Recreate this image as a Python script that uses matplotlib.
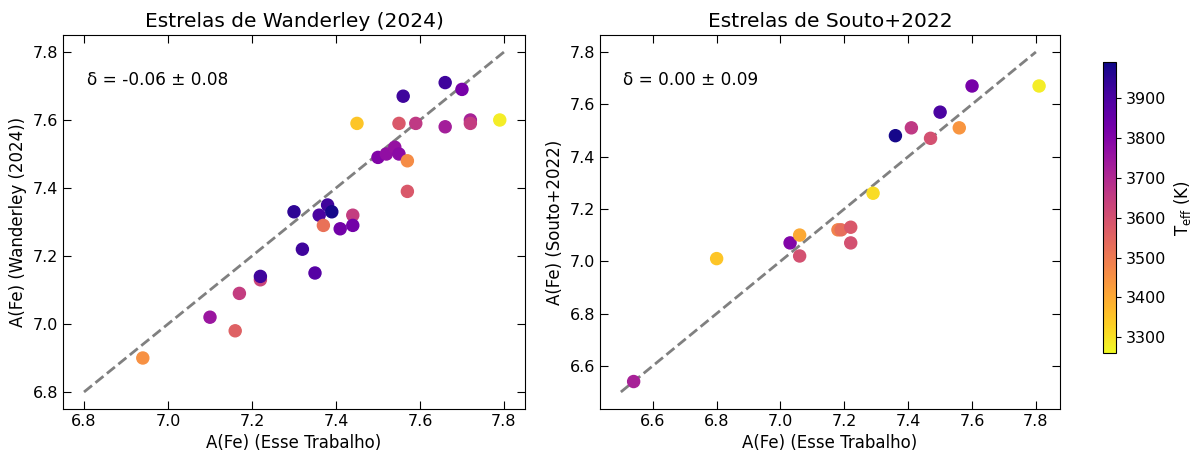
import matplotlib.pyplot as plt
import numpy as np

# Wanderley (2024) comparison
fe_this_w = [6.94, 7.10, 7.16, 7.17, 7.22, 7.22, 7.30, 7.32, 7.35, 7.36, 7.37, 7.38, 7.39, 7.41, 7.44, 7.44,
             7.45, 7.50, 7.52, 7.54, 7.55, 7.55, 7.56, 7.57, 7.57, 7.59, 7.66, 7.66, 7.70, 7.72, 7.72, 7.79]
fe_wand = [6.90, 7.02, 6.98, 7.09, 7.13, 7.14, 7.33, 7.22, 7.15, 7.32, 7.29, 7.35, 7.33, 7.28, 7.32, 7.29,
           7.59, 7.49, 7.50, 7.52, 7.50, 7.59, 7.67, 7.48, 7.39, 7.59, 7.71, 7.58, 7.69, 7.60, 7.59, 7.60]
teff_w = [3450, 3750, 3560, 3650, 3630, 3920, 3950, 3920, 3880, 3900, 3520, 3920, 3980, 3830, 3650, 3830,
          3350, 3800, 3770, 3760, 3780, 3580, 3920, 3460, 3580, 3660, 3920, 3730, 3820, 3720, 3650, 3280]

# Souto+2022 comparison
fe_this_s = [6.54, 6.80, 7.03, 7.06, 7.06, 7.18, 7.19, 7.22, 7.22, 7.29, 7.36, 7.41, 7.47, 7.50, 7.56, 7.60, 7.81]
fe_souto = [6.54, 7.01, 7.07, 7.10, 7.02, 7.12, 7.12, 7.13, 7.07, 7.26, 7.48, 7.51, 7.47, 7.57, 7.51, 7.67, 7.67]
teff_s = [3720, 3350, 3800, 3400, 3600, 3480, 3530, 3580, 3600, 3310, 3980, 3660, 3600, 3900, 3440, 3820, 3280]

vmin, vmax = 3260, 3990

fig = plt.figure(figsize=(11.98, 4.58), dpi=100)
ax1 = fig.add_axes([0.0526, 0.107, 0.3856, 0.8166])
ax2 = fig.add_axes([0.5008, 0.107, 0.384, 0.8166])
cax = fig.add_axes([0.9207, 0.229, 0.011, 0.635])

# left panel
ax1.plot([6.8, 7.8], [6.8, 7.8], color='gray', linestyle='--', linewidth=2)
sc = ax1.scatter(fe_this_w, fe_wand, c=teff_w, cmap='plasma_r', vmin=vmin, vmax=vmax, s=75, zorder=3)
ax1.text(0.052, 0.88, "δ = -0.06 ± 0.08", transform=ax1.transAxes, fontsize=12.2, va='center')
ax1.set_title("Estrelas de Wanderley (2024)", fontsize=14.5)
ax1.set_xlabel("A(Fe) (Esse Trabalho)", fontsize=12)
ax1.set_ylabel("A(Fe) (Wanderley (2024))", fontsize=12)
ax1.set_xticks(np.arange(6.8, 7.81, 0.2))
ax1.set_yticks(np.arange(6.8, 7.81, 0.2))

# right panel
ax2.plot([6.5, 7.8], [6.5, 7.8], color='gray', linestyle='--', linewidth=2)
ax2.scatter(fe_this_s, fe_souto, c=teff_s, cmap='plasma_r', vmin=vmin, vmax=vmax, s=75, zorder=3)
ax2.text(0.05, 0.88, "δ = 0.00 ± 0.09", transform=ax2.transAxes, fontsize=12.2, va='center')
ax2.set_title("Estrelas de Souto+2022", fontsize=14.5)
ax2.set_xlabel("A(Fe) (Esse Trabalho)", fontsize=12)
ax2.set_ylabel("A(Fe) (Souto+2022)", fontsize=12)
ax2.set_xticks(np.arange(6.6, 7.81, 0.2))
ax2.set_yticks(np.arange(6.6, 7.81, 0.2))

for ax in [ax1, ax2]:
    ax.tick_params(direction='in', top=True, right=True, labelsize=11.5, length=6)

cb = fig.colorbar(sc, cax=cax)
cb.set_ticks(np.arange(3300, 3901, 100))
cb.ax.tick_params(labelsize=11.5)
cb.set_label(r"T$_{\rm eff}$ (K)", fontsize=12)

fig.savefig("out.png", dpi=100)
